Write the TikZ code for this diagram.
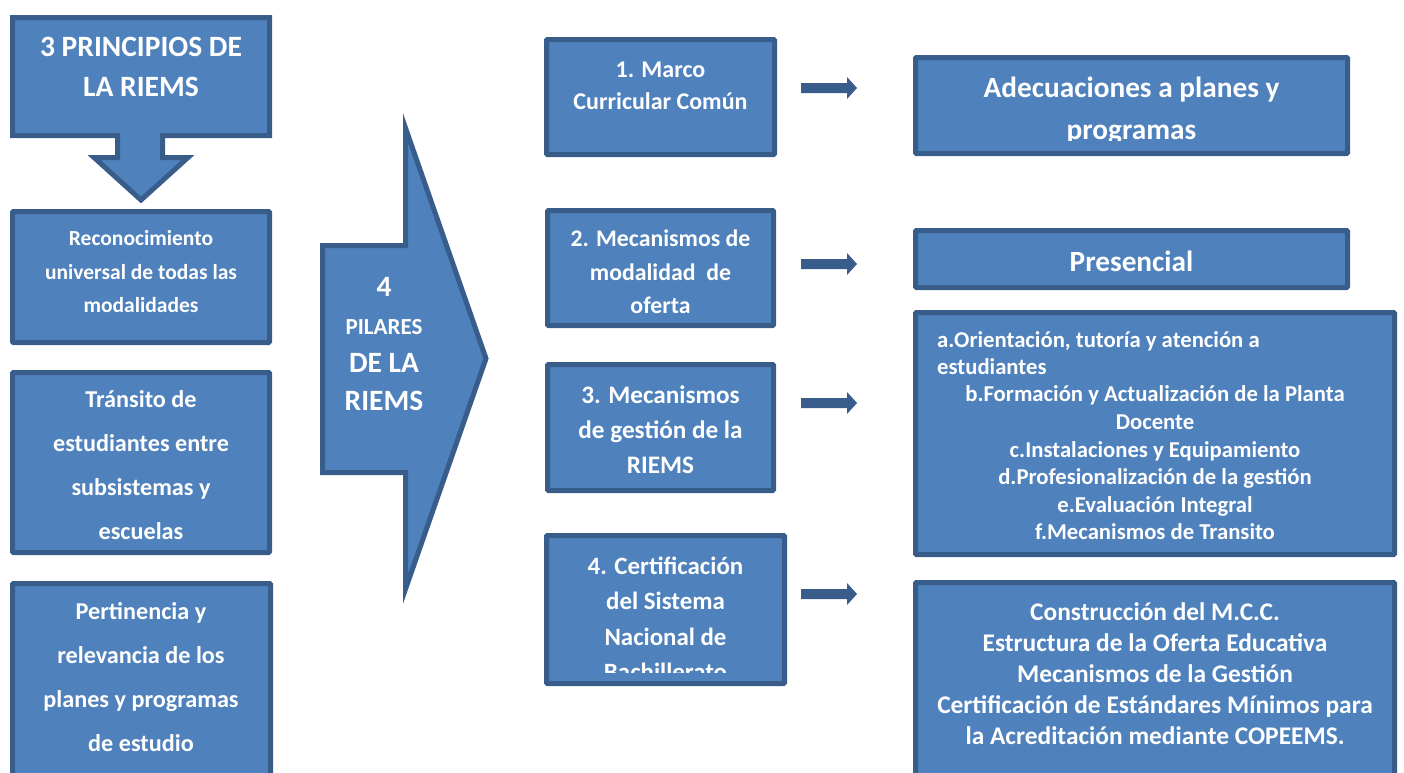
\documentclass[tikz,border=0pt]{standalone}
\usepackage{fontspec}
\setmainfont{Carlito}
\usetikzlibrary{positioning}
\definecolor{azul}{HTML}{4F81BD}
\definecolor{borde}{HTML}{385D8A}
\tikzset{
  caja/.style={draw=borde, fill=azul, line width=5pt, rounded corners=1pt},
  flecha/.style={draw=borde, fill=azul, line width=5pt, line join=miter},
  texto/.style={text=white, align=center, inner sep=0pt},
  flechita/.style={fill=borde, draw=none},
}
\begin{document}
\begin{tikzpicture}[x=1pt, y=-1pt]
  \useasboundingbox (0,0) rectangle (1404,772);
  \clip (0,0) rectangle (1404,772);

  % columna de principios
  \draw[flecha] (12.5,17.5) -- (269.5,17.5) -- (269.5,135.5) -- (162.5,135.5) -- (162.5,157.5)
    -- (188,157.5) -- (141,200) -- (94,157.5) -- (117.5,157.5) -- (117.5,135.5) -- (12.5,135.5) -- cycle;
  \node[texto, font=\fontsize{29.5}{40}\selectfont\bfseries] (principios) at (141,67)
    {3 PRINCIPIOS DE\\LA RIEMS};

  \node[caja, minimum width=257pt, minimum height=131pt] (reconocimiento) at (141,277) {};
  \node[texto, font=\fontsize{21.5}{33.5}\selectfont\bfseries] (reconocimiento-t) at (141,272)
    {Reconocimiento\\universal de todas las\\modalidades};

  \node[caja, minimum width=257pt, minimum height=180pt] (transito) at (141,462.5) {};
  \node[texto, font=\fontsize{24.2}{44}\selectfont\bfseries] (transito-t) at (141,465)
    {Tránsito de\\estudiantes entre\\subsistemas y\\escuelas};

  \node[caja, minimum width=258pt, minimum height=214pt] (pertinencia) at (141.5,690.5) {};
  \node[texto, font=\fontsize{24.2}{44}\selectfont\bfseries] (pertinencia-t) at (141,677)
    {Pertinencia y\\relevancia de los\\planes y programas\\de estudio};

  % flecha de pilares
  \draw[flecha] (322.5,245.5) -- (405.5,245.5) -- (405.5,128) -- (486,358.5)
    -- (405.5,589) -- (405.5,472.5) -- (322.5,472.5) -- cycle;
  \node[texto, font=\fontsize{29.5}{38}\selectfont\bfseries] (pilares) at (384,344)
    {4\\{\fontsize{23}{38}\selectfont PILARES}\\DE LA\\RIEMS};

  % pilares
  \node[caja, minimum width=228pt, minimum height=115pt] (marco) at (660.5,97) {};
  \node[texto, font=\fontsize{24}{32}\selectfont\bfseries] (marco-t) at (660.5,86)
    {1. Marco\\Curricular Común};

  \node[caja, minimum width=226pt, minimum height=115pt] (modalidad) at (660.5,268) {};
  \node[texto, font=\fontsize{23.8}{33.5}\selectfont\bfseries] (modalidad-t) at (660.5,272)
    {2. Mecanismos de\\modalidad~~de\\oferta};

  \node[caja, minimum width=226pt, minimum height=126pt] (gestion) at (660.5,427.5) {};
  \node[texto, font=\fontsize{25.2}{35}\selectfont\bfseries] (gestion-t) at (660.5,430)
    {3. Mecanismos\\de gestión de la\\RIEMS};

  \node[caja, minimum width=238pt, minimum height=148pt] (certificacion) at (665.5,609.5) {};
  \begin{scope}
    \clip (549,538) rectangle (782,672);
    \node[texto, font=\fontsize{24.9}{35.5}\selectfont\bfseries] (certificacion-t) at (665.5,619)
      {4. Certificación\\del Sistema\\Nacional de\\Bachillerato};
  \end{scope}

  % flechas pequeñas
  \foreach \y/\n in {88/a, 264/b, 403/c, 594/d}{
    \draw[flechita] (801,\y-5) -- (847,\y-5) -- (847,\y-11) -- (857,\y) -- (847,\y+11)
      -- (847,\y+5) -- (801,\y+5) -- cycle;
  }

  % resultados
  \node[caja, minimum width=432pt, minimum height=96pt] (adecuaciones) at (1131.5,105.5) {};
  \begin{scope}
    \clip (918,60) rectangle (1345,140);
    \node[texto, font=\fontsize{29.3}{42}\selectfont\bfseries] (adecuaciones-t) at (1131.5,111)
      {Adecuaciones a planes y\\programas};
  \end{scope}

  \node[caja, minimum width=432pt, minimum height=57pt] (presencial) at (1131.5,259) {};
  \node[texto, font=\fontsize{29.3}{32}\selectfont\bfseries] (presencial-t) at (1131.5,261)
    {Presencial};

  \node[caja, minimum width=479pt, minimum height=242pt] (lista) at (1155,433.5) {};
  \node[texto, align=left, anchor=west, font=\fontsize{22.7}{27.6}\selectfont\bfseries] (lista-a) at (937,353)
    {a.Orientación, tutoría y atención a\\estudiantes};
  \node[texto, font=\fontsize{22.7}{27.6}\selectfont\bfseries] (lista-b) at (1155,463)
    {b.Formación y Actualización de la Planta\\Docente\\c.Instalaciones y Equipamiento\\
     d.Profesionalización de la gestión\\e.Evaluación Integral\\f.Mecanismos de Transito};

  \node[caja, minimum width=479pt, minimum height=215pt] (construccion) at (1155,690) {};
  \node[texto, font=\fontsize{25.4}{31}\selectfont\bfseries] (construccion-t) at (1155,674)
    {Construcción del M.C.C.\\Estructura de la Oferta Educativa\\Mecanismos de la Gestión\\
     Certificación de Estándares Mínimos para\\la Acreditación mediante COPEEMS.};
\end{tikzpicture}
\end{document}
